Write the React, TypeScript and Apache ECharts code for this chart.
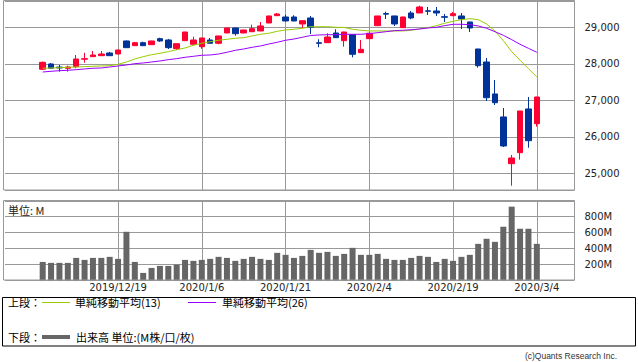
import React, { useEffect, useRef } from 'react';
import * as echarts from 'echarts';

const dates = [
  '2019/12/6', '2019/12/9', '2019/12/10', '2019/12/11', '2019/12/12', '2019/12/13', '2019/12/16', '2019/12/17', '2019/12/18', '2019/12/19',
  '2019/12/20', '2019/12/23', '2019/12/24', '2019/12/26', '2019/12/27', '2019/12/30', '2019/12/31', '2020/1/2', '2020/1/3', '2020/1/6',
  '2020/1/7', '2020/1/8', '2020/1/9', '2020/1/10', '2020/1/13', '2020/1/14', '2020/1/15', '2020/1/16', '2020/1/17', '2020/1/21',
  '2020/1/22', '2020/1/23', '2020/1/24', '2020/1/27', '2020/1/28', '2020/1/29', '2020/1/30', '2020/1/31', '2020/2/3', '2020/2/4',
  '2020/2/5', '2020/2/6', '2020/2/7', '2020/2/10', '2020/2/11', '2020/2/12', '2020/2/13', '2020/2/14', '2020/2/18', '2020/2/19',
  '2020/2/20', '2020/2/21', '2020/2/24', '2020/2/25', '2020/2/26', '2020/2/27', '2020/2/28', '2020/3/2', '2020/3/3', '2020/3/4',
];

const opens = [
  27850, 27995, 27910, 27877, 27920, 28125, 28195, 28222, 28296, 28268,
  28625, 28496, 28578, 28523, 28688, 28652, 28414, 28633, 28534, 28468,
  28652, 28562, 28844, 28981, 28844, 28879, 28899, 29118, 29318, 29282,
  29282, 29090, 29255, 28575, 28578, 28844, 28633, 28797, 28304, 28688,
  29044, 29375, 29310, 28989, 29392, 29392, 29450, 29447, 29290, 29318,
  29310, 29145, 28405, 28049, 27173, 26543, 25263, 25564, 26762, 26359,
];
const closes = [
  28040, 27880, 27885, 27912, 28132, 28140, 28240, 28268, 28222, 28378,
  28441, 28578, 28496, 28625, 28625, 28441, 28551, 28871, 28652, 28707,
  28562, 28762, 28981, 28825, 28926, 28962, 29036, 29310, 29364, 29173,
  29173, 29181, 29000, 28560, 28734, 28715, 28871, 28260, 28397, 28836,
  29310, 29360, 29090, 29282, 29255, 29556, 29440, 29392, 29275, 29373,
  29227, 28981, 27948, 27071, 26934, 25748, 25419, 26707, 25893, 27090,
];
const lows = [
  27830, 27865, 27785, 27785, 27877, 28030, 28190, 28215, 28215, 28260,
  28435, 28490, 28490, 28515, 28600, 28405, 28376, 28625, 28507, 28410,
  28555, 28534, 28840, 28770, 28840, 28870, 28895, 29110, 29310, 29160,
  29165, 28973, 28816, 28452, 28570, 28710, 28468, 28178, 28295, 28680,
  29040, 29227, 29036, 28980, 29220, 29390, 29337, 29310, 29145, 29310,
  28953, 28871, 27893, 26981, 26871, 25720, 24660, 25373, 25701, 26277,
];
const highs = [
  28060, 28020, 27965, 27950, 28240, 28300, 28350, 28350, 28325, 28385,
  28635, 28600, 28605, 28630, 28715, 28680, 28555, 28875, 28742, 28710,
  28707, 28765, 28990, 28985, 28930, 29071, 29145, 29315, 29392, 29340,
  29330, 29185, 29310, 28671, 28836, 28945, 28875, 28800, 28652, 28865,
  29315, 29427, 29315, 29290, 29447, 29592, 29556, 29556, 29365, 29420,
  29392, 29150, 28410, 28159, 27556, 26789, 25501, 26710, 27090, 27095,
];

const sma13 = [
  27877, 27885, 27893, 27904, 27912, 27921, 27932, 27940, 27948, 27986,
  28049, 28132, 28195, 28249, 28288, 28332, 28386, 28433, 28507, 28562,
  28605, 28644, 28671, 28699, 28715, 28762, 28808, 28836, 28890, 28926,
  28945, 28973, 29016, 29016, 29016, 29000, 28995, 28945, 28918, 28899,
  28899, 28899, 28899, 28899, 28918, 28953, 28989, 29044, 29110, 29164,
  29209, 29236, 29209, 29090, 28899, 28633, 28332, 28096, 27866, 27638,
];
const sma26 = [
  27775, 27794, 27811, 27822, 27838, 27858, 27877, 27885, 27912, 27940,
  27967, 28003, 28022, 28049, 28077, 28113, 28140, 28178, 28205, 28233,
  28241, 28268, 28315, 28369, 28405, 28452, 28488, 28542, 28589, 28644,
  28679, 28726, 28775, 28789, 28797, 28797, 28808, 28808, 28808, 28825,
  28853, 28879, 28907, 28918, 28934, 28953, 28981, 29000, 29045, 29082,
  29082, 29073, 29036, 28973, 28879, 28781, 28661, 28534, 28424, 28315,
];

const volumes = [
  229, 217, 217, 217, 279, 254, 279, 279, 292, 267,
  604, 229, 92, 154, 179, 179, 196, 254, 242, 254,
  267, 292, 279, 242, 267, 292, 267, 254, 342, 317,
  279, 304, 379, 342, 354, 304, 329, 404, 317, 317,
  329, 267, 254, 254, 279, 304, 292, 229, 267, 242,
  292, 317, 454, 517, 479, 667, 917, 642, 642, 454,
];

const xTickLabels = ['2019/12/19', '2020/1/6', '2020/1/21', '2020/2/4', '2020/2/19', '2020/3/4'];

const PAD_L = 4;
const PAD_R = 4;

const UP = '#ff0033';
const DOWN = '#003399';
const GRIDC = '#999999';

export default function App() {
  const ref = useRef<HTMLDivElement>(null);

  useEffect(() => {
    if (!ref.current) return;
    const chart = echarts.init(ref.current, undefined, { renderer: 'svg' });

    const categories: string[] = [];
    for (let i = 0; i < PAD_L; i++) categories.push('padL' + i);
    dates.forEach((d) => categories.push(d));
    for (let i = 0; i < PAD_R; i++) categories.push('padR' + i);

    const labelIdx = new Set<number>(xTickLabels.map((l) => categories.indexOf(l)));
    const showIdx = (i: number) => labelIdx.has(i);

    const candleData = dates.map((_, i) => [i + PAD_L, opens[i], closes[i], lows[i], highs[i]]);
    const ma13Data = sma13.map((v, i) => [i + PAD_L, v]);
    const ma26Data = sma26.map((v, i) => [i + PAD_L, v]);
    const volData = volumes.map((v, i) => [i + PAD_L, v]);

    const font = 'DejaVu Sans';
    const cjk = 'Noto Sans CJK JP';

    const xBase = {
      type: 'category',
      data: categories,
      boundaryGap: true,
      axisLine: { show: false },
      axisTick: { show: false },
      splitLine: {
        show: true,
        interval: (i: number) => showIdx(i),
        alignWithLabel: true,
        lineStyle: { color: GRIDC, width: 1 },
      },
    };

    chart.setOption({
      animation: false,
      backgroundColor: '#ffffff',
      grid: [
        { left: 5, width: 569.5, top: 1, height: 189, show: false },
        { left: 5, width: 569.5, top: 201, height: 79.3, show: false },
      ],
      xAxis: [
        { ...xBase, gridIndex: 0, axisLabel: { show: false } },
        {
          ...xBase,
          gridIndex: 1,
          axisLabel: {
            show: true,
            interval: (i: number) => showIdx(i),
            formatter: (v: string) => v,
            fontFamily: font,
            fontSize: 10,
            color: '#222',
            margin: 2,
          },
        },
      ],
      yAxis: [
        {
          type: 'value',
          gridIndex: 0,
          position: 'right',
          min: 24542,
          max: 29720,
          splitNumber: 5,
          scale: true,
          axisLine: { show: false },
          axisTick: { show: false },
          splitLine: { show: true, lineStyle: { color: GRIDC, width: 1 } },
          axisLabel: {
            showMinLabel: false,
            showMaxLabel: false,
            margin: 10,
            fontFamily: font,
            fontSize: 10,
            color: '#222',
            formatter: (v: number) => v.toLocaleString('en-US'),
          },
        },
        {
          type: 'value',
          gridIndex: 1,
          position: 'right',
          min: 0,
          max: 987.5,
          interval: 200,
          axisLine: { show: false },
          axisTick: { show: false },
          splitLine: { show: true, lineStyle: { color: GRIDC, width: 1 } },
          axisLabel: {
            showMinLabel: false,
            showMaxLabel: false,
            margin: 10,
            fontFamily: font,
            fontSize: 10,
            color: '#222',
            formatter: (v: number) => v + 'M',
          },
        },
      ],
      series: [
        {
          type: 'candlestick',
          xAxisIndex: 0,
          yAxisIndex: 0,
          data: candleData,
          encode: { x: 0, y: [1, 2, 3, 4] },
          barWidth: 6,
          itemStyle: {
            color: UP,
            color0: DOWN,
            borderColor: UP,
            borderColor0: DOWN,
            borderWidth: 1,
          },
        },
        {
          type: 'line',
          name: '単純移動平均(13)',
          xAxisIndex: 0,
          yAxisIndex: 0,
          data: ma13Data,
          showSymbol: false,
          symbol: 'none',
          lineStyle: { color: '#99cc00', width: 1 },
          z: 3,
        },
        {
          type: 'line',
          name: '単純移動平均(26)',
          xAxisIndex: 0,
          yAxisIndex: 0,
          data: ma26Data,
          showSymbol: false,
          symbol: 'none',
          lineStyle: { color: '#9900ff', width: 1 },
          z: 3,
        },
        {
          type: 'bar',
          name: '出来高',
          xAxisIndex: 1,
          yAxisIndex: 1,
          data: volData,
          barWidth: 6,
          itemStyle: { color: '#666666' },
        },
      ],
      graphic: [
        { type: 'rect', shape: { x: 3.5, y: 0.5, width: 571, height: 189.5 }, style: { fill: 'none', stroke: GRIDC, lineWidth: 1 }, z: 10 },
        { type: 'rect', shape: { x: 3.5, y: 200.5, width: 571, height: 79.5 }, style: { fill: 'none', stroke: GRIDC, lineWidth: 1 }, z: 10 },
        { type: 'text', x: 8, y: 210, style: { text: '単位: M', fontFamily: cjk, fontSize: 11, fill: '#222', verticalAlign: 'middle', align: 'left' }, z: 10 },
        { type: 'rect', shape: { x: 2.5, y: 297.5, width: 633, height: 48.5 }, style: { fill: 'none', stroke: '#000', lineWidth: 1 }, z: 10 },
        { type: 'text', x: 8, y: 302, style: { text: '上段：', fontFamily: cjk, fontSize: 11, fill: '#000', verticalAlign: 'middle', align: 'left' }, z: 10 },
        { type: 'line', shape: { x1: 42, y1: 302.5, x2: 70, y2: 302.5 }, style: { stroke: '#99cc00', lineWidth: 1 }, z: 10 },
        { type: 'text', x: 75, y: 302, style: { text: '単純移動平均(13)', fontFamily: cjk, fontSize: 11, fill: '#000', verticalAlign: 'middle', align: 'left' }, z: 10 },
        { type: 'line', shape: { x1: 188, y1: 302.5, x2: 216, y2: 302.5 }, style: { stroke: '#9900ff', lineWidth: 1 }, z: 10 },
        { type: 'text', x: 222, y: 302, style: { text: '単純移動平均(26)', fontFamily: cjk, fontSize: 11, fill: '#000', verticalAlign: 'middle', align: 'left' }, z: 10 },
        { type: 'text', x: 8, y: 337, style: { text: '下段：', fontFamily: cjk, fontSize: 11, fill: '#000', verticalAlign: 'middle', align: 'left' }, z: 10 },
        { type: 'rect', shape: { x: 42, y: 335, width: 28, height: 4 }, style: { fill: '#666666' }, z: 10 },
        { type: 'text', x: 76, y: 337, style: { text: '出来高 単位:(M株/口/枚)', fontFamily: cjk, fontSize: 11, fill: '#000', verticalAlign: 'middle', align: 'left' }, z: 10 },
        { type: 'text', x: 617, y: 356, style: { text: '(c)Quants Research Inc.', fontFamily: 'Liberation Sans', fontSize: 8.5, fill: '#333', verticalAlign: 'middle', align: 'right' }, z: 10 },
      ],
    });

    return () => {
      chart.dispose();
    };
  }, []);

  return (
    <div
      ref={ref}
      style={{ position: 'fixed', left: 0, top: 0, width: 638, height: 362, background: '#fff' }}
    />
  );
}
